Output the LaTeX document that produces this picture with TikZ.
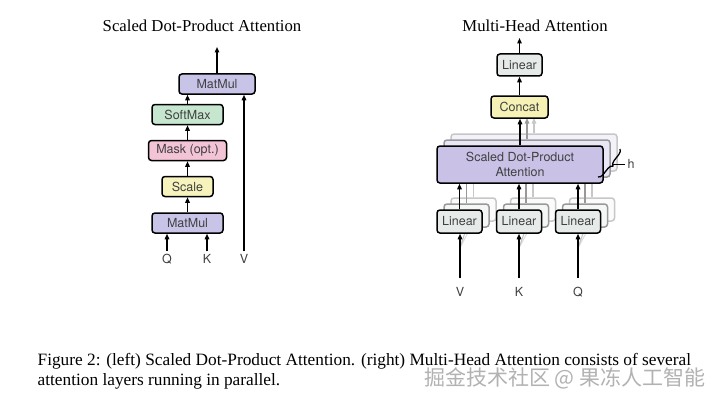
\documentclass[tikz,border=0pt]{standalone}
\usepackage{fontspec}
\setmainfont{Liberation Serif}
\newfontfamily\hv{TeX Gyre Heros}
\newfontfamily\cjk{Noto Sans CJK SC}
\usetikzlibrary{arrows.meta,
calc,
positioning,
decorations.pathreplacing}

\definecolor{matmulcol}{HTML}{C8C4E8}
\definecolor{softmaxcol}{HTML}{C6E6CF}
\definecolor{maskcol}{HTML}{F3C3D6}
\definecolor{scalecol}{HTML}{F6F3BD}
\definecolor{linearcol}{HTML}{E6EBEA}
\definecolor{concatcol}{HTML}{F6F2B5}
\definecolor{sdpacol}{HTML}{C9C1E6}

\tikzset{
	blk/.style={draw, line width=1.5pt, rounded corners=3pt, minimum height=20pt,
		inner sep=0pt, font=\hv\fontsize{12.5}{15}\selectfont, text=black!75},
	ttl/.style={font=\fontsize{16.7}{18}\selectfont},
	inlbl/.style={font=\hv\fontsize{12.5}{13}\selectfont, text=black!75, inner sep=0pt, outer sep=#1},
	inlbl/.default=3pt
}

\begin{document}
\begin{tikzpicture}[
		x=1pt, y=-1pt,
		>={Triangle[length=5.5pt,width=4.5pt]},
		line width=1.3pt
	]
	\fill[white] (0,0) rectangle (720,404);
	\useasboundingbox (0,0) rectangle (720,404);

	% left: scaled dot-product attention
	\node [ttl] (ttl1) at (202,26) {Scaled Dot-Product Attention};
	\node [blk, fill=matmulcol, minimum width=71pt] (mm2) at (187.5,223) {MatMul};
	\node [blk, fill=scalecol, minimum width=51pt, above=15pt of mm2] (scale) {Scale};
	\node [blk, fill=maskcol, minimum width=78pt, above=14.5pt of scale] (mask) {Mask (opt.)};
	\node [blk, fill=softmaxcol, minimum width=71pt, above=14.5pt of mask] (softmax) {SoftMax};
	\node [blk, fill=matmulcol, minimum width=76pt] (mm1) at (217,84) {MatMul};
	\node [inlbl] (q) at (167,259) {Q};
	\node [inlbl] (k) at (207,259) {K};
	\node [inlbl] (v) at (244,259) {V};
	\coordinate (out1) at (217,47);
	\draw[->] (q) -- (q |- mm2.south);
	\draw[->] (k) -- (k |- mm2.south);
	\draw[->] (mm2) -- (scale);
	\draw[->] (scale) -- (mask);
	\draw[->] (mask) -- (softmax);
	\draw[->] (softmax) -- (softmax |- mm1.south);
	\draw[->] (v) -- (v |- mm1.south);
	\draw[->] (mm1) -- (out1);

	% right: multi-head attention
	\node [ttl] (ttl2) at (535,26) {Multi-Head Attention};
	\node [inlbl=9pt] (vin) at (460,292) {V};
	\node [inlbl=9pt] (kin) at (519,292) {K};
	\node [inlbl=9pt] (qin) at (578,292) {Q};
	\foreach \i/\c in {2/22,1/40} {
		\node [blk, draw=black!\c, fill=sdpacol!\c!white, minimum width=166pt, minimum height=37pt,
			xshift=\i*7pt, yshift=\i*6pt] (sdpa\i) at (520,164.5) {};
		\draw[->, black!\c] (sdpa\i) -- (sdpa\i |- 0,118);
	}
	\foreach \n/\x in {v/459.5,k/519,q/578} {
		\foreach \i/\c in {2/22,1/40} {
			\node [blk, draw=black!\c, fill=linearcol!\c!white, minimum width=45pt, minimum height=23pt,
				xshift=\i*7pt, yshift=\i*6pt] (lin\n\i) at (\x,221.5) {};
			\draw[black!\c] (lin\n\i) -- (lin\n\i |- sdpa\i.south);
			\draw[black!\c!white!60, line width=1pt] (\n in.north |- 0,248) -- (lin\n\i.south);
		}
	}
	\node [blk, fill=sdpacol, minimum width=166pt, minimum height=37pt, align=center] (sdpa) at (520,164.5) {Scaled Dot-Product\\Attention};
	\node [blk, fill=linearcol, minimum width=45pt, minimum height=23pt] (linv) at (459.5,221.5) {Linear};
	\node [blk, fill=linearcol, minimum width=45pt, minimum height=23pt] (link) at (519,221.5) {Linear};
	\node [blk, fill=linearcol, minimum width=45pt, minimum height=23pt] (linq) at (578,221.5) {Linear};
	\node [blk, fill=concatcol, minimum width=57pt, minimum height=22pt] (concat) at (519.5,107) {Concat};
	\node [blk, fill=linearcol, minimum width=45pt, minimum height=22pt] (linout) at (519.5,65) {Linear};
	\coordinate (out2) at (519.5,38);
	\draw[->] (vin) -- (vin |- linv.south);
	\draw[->] (kin) -- (kin |- link.south);
	\draw[->] (qin) -- (qin |- linq.south);
	\draw[->] (linv) -- (linv |- sdpa.south);
	\draw[->] (link) -- (link |- sdpa.south);
	\draw[->] (linq) -- (linq |- sdpa.south);
	\draw[->] (sdpa) -- (sdpa |- concat.south);
	\draw[->] (concat) -- (linout);
	\draw[->] (linout) -- (out2);

	% heads brace
	\coordinate (bra) at (620,149);
	\coordinate (brb) at (598,177);
	\coordinate (btip) at (613,164);
	\node [inlbl] (hlbl) at (631,164) {h};
	\draw[decorate, decoration={brace, amplitude=5pt}, line width=1.3pt] (bra) -- (brb);
	\draw[line width=0.8pt] (btip) -- (hlbl);

	% caption
	\node [anchor=west, align=left, inner sep=0pt, font=\fontsize{17.3}{19.5}\selectfont] (cap) at (37,371.5)
		{Figure 2: (left) Scaled Dot-Product Attention. (right) Multi-Head Attention consists of several\\attention layers running in parallel.};
	\node [anchor=east, inner sep=0pt, text=black!30, font=\cjk\fontsize{21}{21}\selectfont] (wm) at (706,378) {掘金技术社区 @ 果冻人工智能};
\end{tikzpicture}
\end{document}
